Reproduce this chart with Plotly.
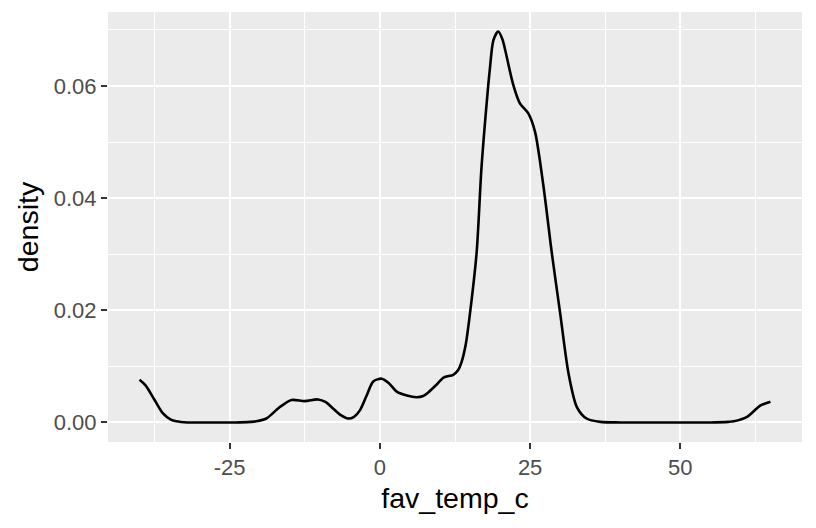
import plotly.graph_objects as go

# Density curve
fav_temp_c = [-40.0, -39.0, -37.5, -36.1, -34.8, -33.9, -32.0, -28.0, -24.0, -21.5, -20.6, -18.9,
              -16.7, -14.7, -12.5, -10.3, -9.0, -7.8, -6.5, -5.3, -4.3, -3.3, -2.2, -1.1, 0.3,
              1.5, 2.8, 4.5, 6.1, 7.2, 8.1, 9.3, 10.6, 12.2, 13.0, 13.6, 14.3, 15.0, 16.1, 16.9,
              17.8, 18.3, 18.9, 19.7, 20.4, 20.9, 22.2, 23.3, 24.7, 25.8, 27.2, 28.6, 30.0, 31.4, 32.8,
              34.4, 36.7, 40.0, 45.0, 50.0, 55.0, 58.0, 58.9, 61.1, 63.3, 65.0]
density = [0.0076, 0.0066, 0.0040, 0.0016, 0.0005, 0.0002, 0.0000, 0.0000, 0.0000, 0.0001, 0.0002, 0.0007,
           0.0027, 0.0040, 0.0038, 0.0041, 0.0036, 0.0025, 0.0013, 0.0007, 0.0010, 0.0022, 0.0048, 0.0073, 0.0078,
           0.0070, 0.0055, 0.0048, 0.0045, 0.0047, 0.0054, 0.0066, 0.0080, 0.0085, 0.0093, 0.0108, 0.0140, 0.0195, 0.0303, 0.0453,
           0.0573, 0.0630, 0.0682, 0.0697, 0.0683, 0.0662, 0.0602, 0.0569, 0.0551, 0.0519, 0.0423, 0.0303, 0.0195, 0.0087, 0.0027,
           0.0007, 0.0001, 0.0000, 0.0000, 0.0000, 0.0000, 0.0001, 0.0002, 0.0010, 0.0030, 0.0037]

x_ticks = [-25, 0, 25, 50]
x_labels = ["-25", "0", "25", "50"]
y_ticks = [0.00, 0.02, 0.04, 0.06]
y_labels = ["0.00", "0.02", "0.04", "0.06"]

fig = go.Figure()
fig.add_trace(go.Scatter(
    x=fav_temp_c, y=density, mode="lines",
    line=dict(color="black", width=2.6, shape="spline", smoothing=0.8),
    showlegend=False, hoverinfo="skip"))

font_family = "Liberation Sans, Arial, sans-serif"
fig.update_layout(
    width=816, height=528,
    margin=dict(l=108, r=14, t=12, b=86, autoexpand=False),
    paper_bgcolor="white", plot_bgcolor="#EBEBEB",
    font=dict(family=font_family, color="black"),
)
fig.update_xaxes(
    range=[-45.25, 70.25], tickvals=x_ticks, ticktext=x_labels,
    showgrid=True, gridcolor="white", gridwidth=2.2, zeroline=False,
    minor=dict(tick0=-12.5, dtick=25, showgrid=True, gridcolor="white", gridwidth=1.1, ticks=""),
    ticks="outside", ticklen=6, tickwidth=2.2, tickcolor="#333333",
    tickfont=dict(size=22, color="#4D4D4D", family=font_family),
    title=dict(text="fav_temp_c", font=dict(size=28.5, color="black", family=font_family), standoff=8),
    showline=False, automargin=False,
)
fig.update_yaxes(
    range=[-0.00349, 0.07319], tickvals=y_ticks, ticktext=y_labels,
    showgrid=True, gridcolor="white", gridwidth=2.2, zeroline=False,
    minor=dict(tick0=0.01, dtick=0.02, showgrid=True, gridcolor="white", gridwidth=1.1, ticks=""),
    ticks="outside", ticklen=6, tickwidth=2.2, tickcolor="#333333",
    tickfont=dict(size=22, color="#4D4D4D", family=font_family),
    title=dict(text="density", font=dict(size=28.5, color="black", family=font_family), standoff=6),
    showline=False, automargin=False,
)

fig.write_html("out.html", config={"displayModeBar": False},
               post_script="document.body.style.margin='0';document.body.style.padding='0';")
